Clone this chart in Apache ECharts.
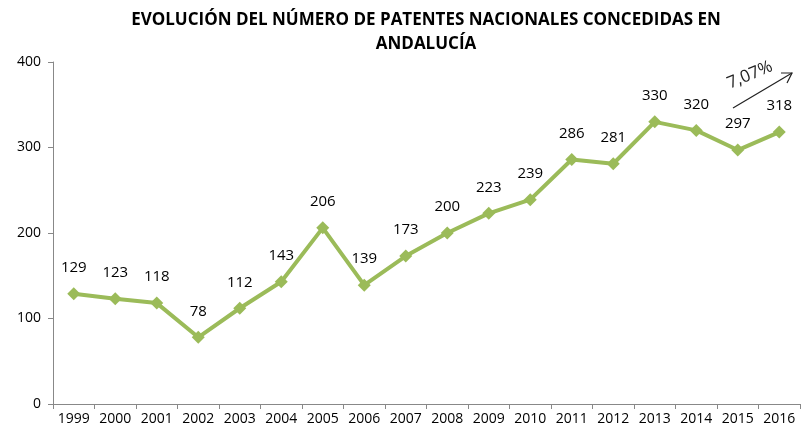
<!DOCTYPE html>
<html>
<head>
<meta charset="utf-8">
<script src="https://cdn.jsdelivr.net/npm/echarts@6/dist/echarts.min.js"></script>
<style>
  html, body { margin: 0; padding: 0; background: #fff; }
  #chart { width: 807px; height: 434px; }
</style>
</head>
<body>
<div id="chart"></div>
<script>
// años
const years = ['1999', '2000', '2001', '2002', '2003', '2004', '2005', '2006', '2007',
  '2008', '2009', '2010', '2011', '2012', '2013', '2014', '2015', '2016']
// patentes concedidas
const patentes = [129, 123, 118, 78, 112, 143, 206, 139, 173, 200, 223, 239, 286, 281, 330, 320, 297, 318]
const yTicks = [0, 100, 200, 300, 400]

const font = '"Open Sans", "Noto Sans", sans-serif'
const chart = echarts.init(document.getElementById('chart'))

chart.setOption({
  animation: false,
  title: {
    text: 'EVOLUCIÓN DEL NÚMERO DE PATENTES NACIONALES CONCEDIDAS EN\nANDALUCÍA',
    left: 421,
    textAlign: 'center',
    top: 3,
    textStyle: { fontFamily: font, fontSize: 17, fontWeight: 'bold', color: '#000', lineHeight: 24 }
  },
  grid: { left: 53, right: 7, top: 62, bottom: 30 },
  xAxis: {
    type: 'category',
    data: years,
    boundaryGap: true,
    axisLine: { lineStyle: { color: '#888' } },
    axisTick: { show: true, interval: 0, length: 5, lineStyle: { color: '#888' } },
    axisLabel: { interval: 0, color: '#000', fontFamily: font, fontSize: 14, margin: 8 }
  },
  yAxis: {
    type: 'value',
    min: yTicks[0],
    max: yTicks[yTicks.length - 1],
    interval: 100,
    axisLine: { show: true, lineStyle: { color: '#888' } },
    axisTick: { show: true, length: 5, lineStyle: { color: '#888' } },
    splitLine: { show: false },
    axisLabel: { color: '#000', fontFamily: font, fontSize: 14, margin: 12 }
  },
  series: [{
    type: 'line',
    data: patentes,
    symbol: 'diamond',
    symbolSize: 13,
    lineStyle: { color: '#9BBB59', width: 4 },
    itemStyle: { color: '#9BBB59' },
    label: {
      show: true,
      position: 'top',
      distance: 12,
      color: '#000',
      fontFamily: font,
      fontSize: 15
    }
  }],
  graphic: [
    {
      type: 'line',
      shape: { x1: 733, y1: 108, x2: 792, y2: 73 },
      style: { stroke: '#222', lineWidth: 1.2 }
    },
    {
      type: 'polyline',
      shape: { points: [[781, 73], [792, 73], [787, 83]] },
      style: { stroke: '#222', lineWidth: 1.2, fill: null }
    },
    {
      type: 'text',
      x: 750,
      y: 75,
      rotation: 0.4,
      style: {
        text: '7,07%',
        fill: '#222',
        font: '17px ' + font,
        align: 'center',
        verticalAlign: 'middle'
      }
    }
  ]
})
</script>
</body>
</html>
